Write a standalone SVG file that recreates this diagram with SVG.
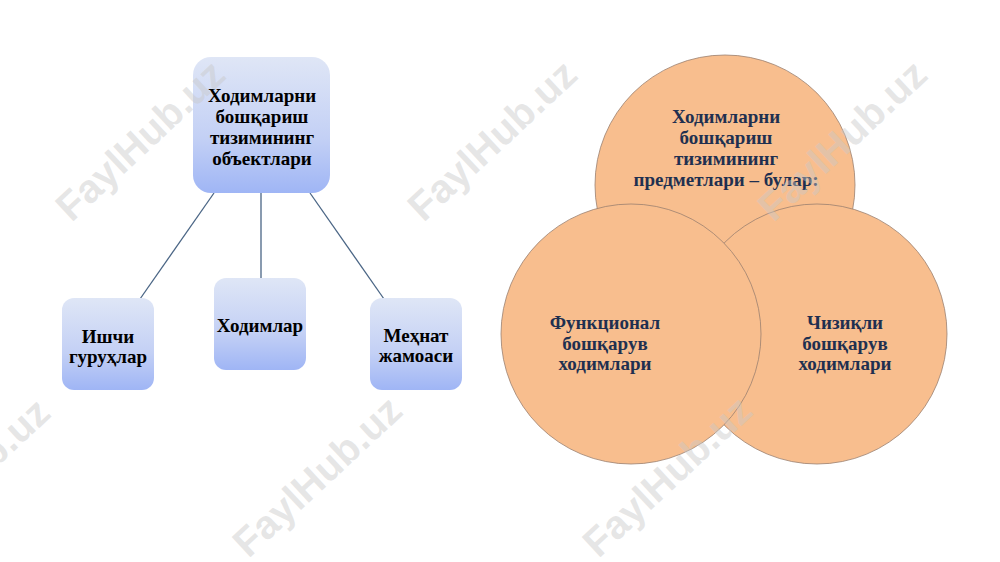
<svg xmlns="http://www.w3.org/2000/svg" width="1000" height="562" viewBox="0 0 1000 562">
<style>
.box{stroke:none;fill:url(#bg)}
.bt{font-family:"Liberation Serif","Times New Roman",serif;font-weight:bold;font-size:19px;fill:#000;text-anchor:middle}
.ct{font-family:"Liberation Serif","Times New Roman",serif;font-weight:bold;font-size:19px;fill:#1f3050;text-anchor:middle}
.circ{fill:#f8be8e;stroke:#9a8070;stroke-width:0.8}
.conn{stroke:#4a6585;stroke-width:1.3;fill:none}
.wm{font-family:"Liberation Sans",Arial,sans-serif;font-weight:bold;font-size:40px;fill:#c8c8c8;fill-opacity:0.45;text-anchor:middle}
</style>
<defs>
<linearGradient id="bg" x1="0" y1="0" x2="0" y2="1">
<stop offset="0" stop-color="#dfe6f6"/>
<stop offset="0.6" stop-color="#c3d0f5"/>
<stop offset="1" stop-color="#9fb5f5"/>
</linearGradient>
</defs>
<rect width="1000" height="562" fill="#fff"/>
<g id="connectors">
<line class="conn" x1="214" y1="193" x2="140" y2="299"/>
<line class="conn" x1="261" y1="193" x2="261" y2="279"/>
<line class="conn" x1="310" y1="193" x2="384" y2="299"/>
</g>
<g id="node-objects">
<rect class="box" x="193" y="57" width="137" height="136" rx="18"/>
<text class="bt" x="262" y="102">Ходимларни</text>
<text class="bt" x="262" y="123">бошқариш</text>
<text class="bt" x="262" y="144">тизимининг</text>
<text class="bt" x="262" y="165">объектлари</text>
</g>
<g id="node-ishchi">
<rect class="box" x="62" y="298" width="92" height="92" rx="12"/>
<text class="bt" x="108" y="343">Ишчи</text>
<text class="bt" x="108" y="363">гуруҳлар</text>
</g>
<g id="node-hodimlar">
<rect class="box" x="214" y="278" width="92" height="92" rx="12"/>
<text class="bt" x="260" y="332">Ходимлар</text>
</g>
<g id="node-mehnat">
<rect class="box" x="370" y="298" width="92" height="92" rx="12"/>
<text class="bt" x="416" y="342">Меҳнат</text>
<text class="bt" x="416" y="362">жамоаси</text>
</g>
<g id="node-subjects">
<circle class="circ" cx="725" cy="185" r="130"/>
<text class="ct" x="726" y="123">Ходимларни</text>
<text class="ct" x="726" y="144">бошқариш</text>
<text class="ct" x="726" y="165">тизимининг</text>
<text class="ct" x="726" y="186">предметлари – булар:</text>
</g>
<g id="node-linear">
<circle class="circ" cx="817" cy="334" r="130"/>
<text class="ct" x="845" y="329">Чизиқли</text>
<text class="ct" x="845" y="350">бошқарув</text>
<text class="ct" x="845" y="370">ходимлари</text>
</g>
<g id="node-functional">
<circle class="circ" cx="631" cy="334" r="130"/>
<text class="ct" x="605" y="329">Функционал</text>
<text class="ct" x="605" y="350">бошқарув</text>
<text class="ct" x="605" y="370">ходимлари</text>
</g>
<g id="watermarks">
<text class="wm" transform="translate(140,140) rotate(-43)" dy="14">FaylHub.uz</text>
<text class="wm" transform="translate(492,140) rotate(-43)" dy="14">FaylHub.uz</text>
<text class="wm" transform="translate(842,140) rotate(-43)" dy="14">FaylHub.uz</text>
<text class="wm" transform="translate(-35,478) rotate(-43)" dy="14">FaylHub.uz</text>
<text class="wm" transform="translate(317,476) rotate(-43)" dy="14">FaylHub.uz</text>
<text class="wm" transform="translate(667,476) rotate(-43)" dy="14">FaylHub.uz</text>
</g>
</svg>
